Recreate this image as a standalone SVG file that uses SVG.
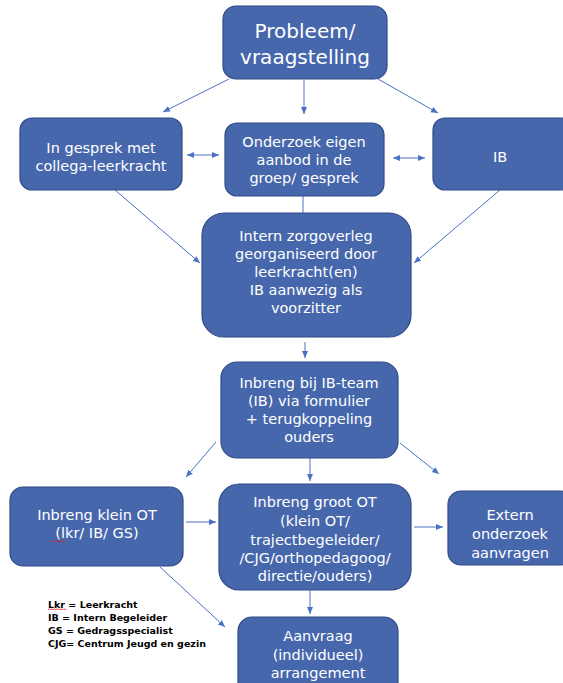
<svg xmlns="http://www.w3.org/2000/svg" width="563" height="683" viewBox="0 0 563 683">
<defs>
<marker id="ah" markerWidth="8" markerHeight="8" refX="7" refY="4" orient="auto" markerUnits="userSpaceOnUse">
<path d="M0,1 L7,4 L0,7 Z" fill="#4a72c2"/>
</marker>
<marker id="ahs" markerWidth="8" markerHeight="8" refX="1" refY="4" orient="auto" markerUnits="userSpaceOnUse">
<path d="M8,1 L1,4 L8,7 Z" fill="#4a72c2"/>
</marker>
<style>
.box{fill:#4767ad;stroke:#2f4a86;stroke-width:1.2}
.t{fill:#ffffff;font-family:"DejaVu Sans",Verdana,sans-serif;font-size:14.5px;text-anchor:middle}
.tt{fill:#ffffff;font-family:"DejaVu Sans",Verdana,sans-serif;font-size:20px;text-anchor:middle}
.c{stroke:#4a72c2;stroke-width:1;fill:none}
.a{marker-end:url(#ah)}
.leg{font-family:"DejaVu Sans",Verdana,sans-serif;font-weight:bold;font-size:9.5px;fill:#000}
.sp{stroke:#e02020;stroke-width:0.8;fill:none}
</style>
</defs>
<rect width="563" height="683" fill="#ffffff"/>
<g id="connectors">
<line class="c a" x1="229" y1="79" x2="163" y2="112"/>
<line class="c a" x1="304" y1="80" x2="304" y2="114"/>
<line class="c a" x1="378" y1="79" x2="438" y2="113"/>
<line class="c a" x1="187" y1="155" x2="219" y2="155" style="marker-start:url(#ahs)"/>
<line class="c a" x1="393" y1="158" x2="425" y2="158" style="marker-start:url(#ahs)"/>
<line class="c a" x1="115" y1="190" x2="200" y2="263"/>
<line class="c a" x1="500" y1="190" x2="414" y2="263"/>
<line class="c" x1="303" y1="196" x2="303" y2="213"/>
<line class="c a" x1="305" y1="342" x2="305" y2="358"/>
<line class="c a" x1="216" y1="442" x2="186" y2="477"/>
<line class="c a" x1="310" y1="458" x2="310" y2="481"/>
<line class="c a" x1="400" y1="443" x2="439" y2="474"/>
<line class="c a" x1="186" y1="522" x2="216" y2="522"/>
<line class="c a" x1="414" y1="527" x2="443" y2="527"/>
<line class="c a" x1="310" y1="590" x2="310" y2="614"/>
<line class="c a" x1="160" y1="567" x2="225" y2="627"/>
</g>
<g id="n-probleem">
<rect class="box" x="223" y="6" width="164" height="73" rx="13"/>
<text class="tt" x="305" y="38">Probleem/</text>
<text class="tt" x="305" y="64">vraagstelling</text>
</g>
<g id="n-gesprek">
<rect class="box" x="20" y="118" width="162" height="72" rx="12"/>
<text class="t" x="101" y="153">In gesprek met</text>
<text class="t" x="101" y="171">collega-leerkracht</text>
</g>
<g id="n-onderzoek">
<rect class="box" x="225" y="123" width="159" height="73" rx="12"/>
<text class="t" x="304" y="147">Onderzoek eigen</text>
<text class="t" x="304" y="165">aanbod in de</text>
<text class="t" x="304" y="183">groep/ gesprek</text>
</g>
<g id="n-ib">
<rect class="box" x="433" y="118" width="140" height="72" rx="12"/>
<text class="t" x="500" y="162">IB</text>
</g>
<g id="n-intern">
<rect class="box" x="202" y="213" width="209" height="124" rx="22"/>
<text class="t" x="306" y="241">Intern zorgoverleg</text>
<text class="t" x="306" y="259">georganiseerd door</text>
<text class="t" x="306" y="277">leerkracht(en)</text>
<text class="t" x="306" y="295">IB aanwezig als</text>
<text class="t" x="306" y="313">voorzitter</text>
</g>
<g id="n-ibteam">
<rect class="box" x="221" y="362" width="177" height="96" rx="16"/>
<text class="t" x="309" y="388">Inbreng bij IB-team</text>
<text class="t" x="309" y="406">(IB) via formulier</text>
<text class="t" x="309" y="424">+ terugkoppeling</text>
<text class="t" x="309" y="442">ouders</text>
</g>
<g id="n-kleinot">
<rect class="box" x="10" y="487" width="173" height="79" rx="13"/>
<text class="t" x="97" y="520">Inbreng klein OT</text>
<text class="t" x="97" y="538">(lkr/ IB/ GS)</text>
<path class="sp" d="M51,542 l1.5,-1.5 l1.5,1.5 l1.5,-1.5 l1.5,1.5 l1.5,-1.5 l1.5,1.5 l1.5,-1.5 l1.5,1.5 l1.5,-1.5 l1.5,1.5"/>
</g>
<g id="n-grootot">
<rect class="box" x="219" y="484" width="192" height="106" rx="20"/>
<text class="t" x="315" y="507">Inbreng groot OT</text>
<text class="t" x="315" y="526">(klein OT/</text>
<text class="t" x="315" y="545">trajectbegeleider/</text>
<text class="t" x="315" y="563">/CJG/orthopedagoog/</text>
<text class="t" x="315" y="581">directie/ouders)</text>
</g>
<g id="n-extern">
<rect class="box" x="448" y="491" width="125" height="74" rx="13"/>
<text class="t" x="510" y="520">Extern</text>
<text class="t" x="510" y="539">onderzoek</text>
<text class="t" x="510" y="558">aanvragen</text>
</g>
<g id="n-aanvraag">
<rect class="box" x="238" y="617" width="160" height="80" rx="14"/>
<text class="t" x="318" y="641">Aanvraag</text>
<text class="t" x="318" y="660">(individueel)</text>
<text class="t" x="318" y="678">arrangement</text>
</g>
<g id="legend">
<text class="leg" x="48" y="608">Lkr = Leerkracht</text>
<text class="leg" x="48" y="621">IB = Intern Begeleider</text>
<text class="leg" x="48" y="634">GS = Gedragsspecialist</text>
<text class="leg" x="48" y="647">CJG= Centrum Jeugd en gezin</text>
<path class="sp" d="M48,610 l1.3,-1.3 l1.3,1.3 l1.3,-1.3 l1.3,1.3 l1.3,-1.3 l1.3,1.3 l1.3,-1.3 l1.3,1.3 l1.3,-1.3 l1.3,1.3 l1.3,-1.3 l1.3,1.3 l1.3,-1.3 l1.3,1.3"/>
</g>
</svg>
